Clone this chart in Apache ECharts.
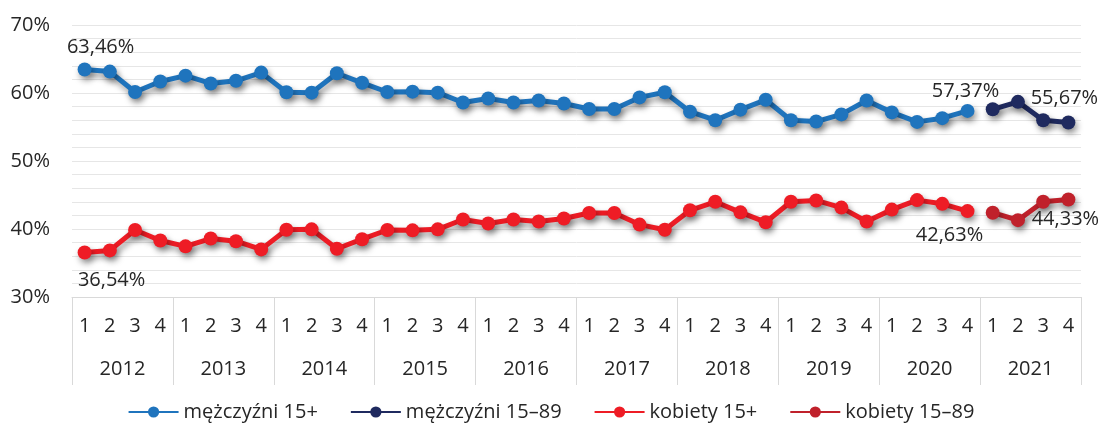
<!DOCTYPE html>
<html>
<head>
<meta charset="utf-8">
<script src="https://cdn.jsdelivr.net/npm/echarts@6/dist/echarts.min.js"></script>
<style>
  html, body { margin: 0; padding: 0; background: #fff; }
  #chart { width: 1102px; height: 427px; }
</style>
</head>
<body>
<div id="chart"></div>
<script>
const years = ['2012', '2013', '2014', '2015', '2016', '2017', '2018', '2019', '2020', '2021'];
const quarters = ['1', '2', '3', '4'];

// udział w pracujących, %
const men15 = [
  63.46, 63.15, 60.15, 61.7,
  62.55, 61.4, 61.8, 63.0,
  60.1, 60.05, 62.9, 61.5,
  60.15, 60.2, 60.05, 58.6,
  59.2, 58.6, 58.9, 58.45,
  57.65, 57.65, 59.35, 60.1,
  57.25, 56.0, 57.55, 59.0,
  56.0, 55.8, 56.85, 58.9,
  57.15, 55.75, 56.3, 57.37
];
const men1589 = [57.6, 58.7, 56.0, 55.67];
const women15 = [
  36.54, 36.85, 39.85, 38.3,
  37.45, 38.6, 38.2, 37.0,
  39.9, 39.95, 37.1, 38.5,
  39.85, 39.8, 39.95, 41.4,
  40.8, 41.4, 41.1, 41.55,
  42.35, 42.35, 40.65, 39.9,
  42.75, 44.0, 42.45, 41.0,
  44.0, 44.2, 43.15, 41.1,
  42.85, 44.25, 43.7, 42.63
];
const women1589 = [42.4, 41.3, 44.0, 44.33];

const categories = [];
years.forEach(y => quarters.forEach(q => categories.push(y + '-' + q)));

const FONT = 'Open Sans';
const FS = 20;
const TXT = '#262626';

function fmt(v) { return v.toFixed(2).replace('.', ',') + '%'; }

// labels: index -> [position, offset]
function build(values, start, labels) {
  const out = new Array(categories.length).fill(null);
  values.forEach((v, i) => {
    const idx = start + i;
    const l = labels[idx];
    out[idx] = l ? {
      value: v,
      label: { show: true, position: l[0], offset: l[1], formatter: fmt(v),
               fontFamily: FONT, fontSize: FS, color: TXT }
    } : v;
  });
  return out;
}

const shadow = { shadowColor: 'rgba(0,0,0,0.4)', shadowBlur: 6, shadowOffsetX: 2, shadowOffsetY: 4 };

function lineSeries(name, color, data) {
  return {
    name: name,
    type: 'line',
    data: data,
    symbol: 'circle',
    symbolSize: 14,
    connectNulls: false,
    lineStyle: Object.assign({ color: color, width: 5 }, shadow),
    itemStyle: Object.assign({ color: color }, shadow),
    emphasis: { disabled: true },
    z: 3
  };
}

const chart = echarts.init(document.getElementById('chart'), null, { renderer: 'canvas' });

chart.setOption({
  animation: false,
  grid: { left: 72, right: 21, top: 25, bottom: 130 },
  legend: {
    bottom: 0,
    left: 'center',
    itemWidth: 50,
    itemHeight: 14,
    itemGap: 32,
    textStyle: { fontFamily: FONT, fontSize: FS, color: TXT },
    data: ['mężczyźni 15+', 'mężczyźni 15–89', 'kobiety 15+', 'kobiety 15–89']
  },
  xAxis: [
    {
      type: 'category',
      data: categories,
      boundaryGap: true,
      axisLine: { show: true, lineStyle: { color: '#d9d9d9', width: 1 } },
      axisTick: { show: false },
      axisLabel: {
        interval: 0,
        margin: 19,
        fontFamily: FONT, fontSize: FS, color: TXT,
        formatter: v => v.split('-')[1]
      }
    },
    {
      type: 'category',
      data: years,
      position: 'bottom',
      boundaryGap: true,
      axisLine: { show: false },
      axisTick: { show: true, length: 88, lineStyle: { color: '#d9d9d9', width: 1 } },
      axisLabel: { interval: 0, margin: 62, fontFamily: FONT, fontSize: FS, color: TXT }
    }
  ],
  yAxis: {
    type: 'value',
    min: 30,
    max: 70,
    interval: 2,
    axisLine: { show: false },
    axisTick: { show: false },
    axisLabel: {
      margin: 22,
      fontFamily: FONT, fontSize: FS, color: TXT,
      formatter: v => (v % 10 === 0 ? v + '%' : '')
    },
    splitLine: { show: true, lineStyle: { color: '#e6e6e6', width: 1 } }
  },
  series: [
    lineSeries('mężczyźni 15+', '#1f74bd',
      build(men15, 0, { 0: ['top', [16, 0]], 35: ['top', [-2, 2]] })),
    lineSeries('mężczyźni 15–89', '#1f2a5f',
      build(men1589, 36, { 39: ['top', [-4, -2]] })),
    lineSeries('kobiety 15+', '#ee1c25',
      build(women15, 0, { 0: ['bottom', [27, 6]], 35: ['bottom', [-18, 2]] })),
    lineSeries('kobiety 15–89', '#c0212b',
      build(women1589, 36, { 39: ['bottom', [-3, -2]] }))
  ]
});
</script>
</body>
</html>
